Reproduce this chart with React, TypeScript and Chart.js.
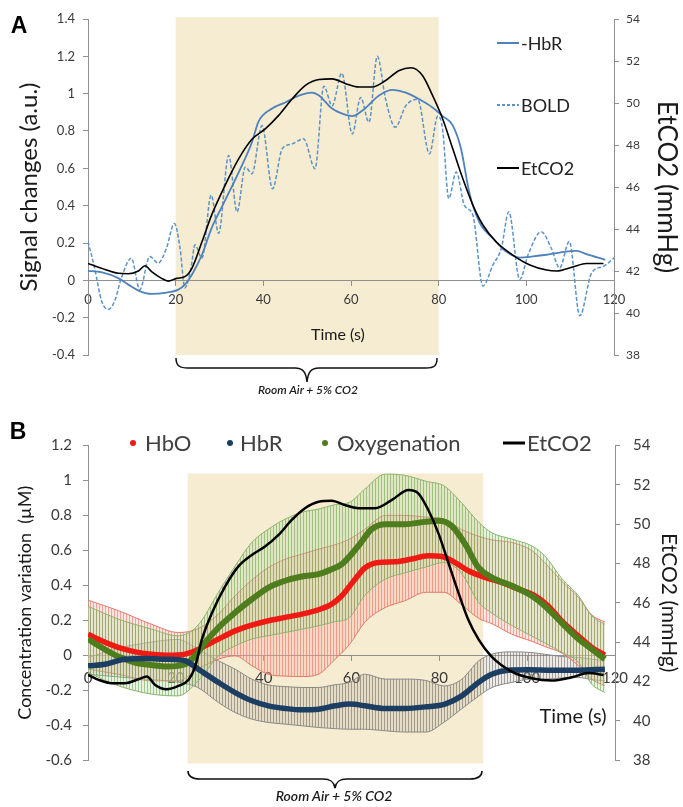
import React, { useEffect, useRef } from "react";
import { Chart, registerables } from "chart.js";

Chart.register(...registerables);

const FONT = "Lato, 'Open Sans', sans-serif";
const AXIS = "#8f8f8f";
const TICK = "#3a3a3a";

// ---------------- Panel A ----------------
const labelsA = ["-HbR", "BOLD", "EtCO2"];
const shadeTimeA = [20, 80];
const shadeValA = [-0.4, 1.41];

const timeHbRA = [0, 3, 6.9, 9.2, 11.5, 14.5, 17.6, 20.6, 22.1, 23.7, 26, 28.2, 31.3, 34.4, 37.4, 38.9, 42, 45, 48.1, 51.1, 52.7, 55.7, 58.8, 60.3, 63, 66.4, 69.5, 72.5, 75.6, 78.6, 80.9, 83.2, 85.1, 87, 89.3, 92.4, 95.4, 98.5, 101.5, 104.6, 107.6, 111.5, 113.7, 118];
const negHbRA = [0.051, 0.044, 0.012, -0.023, -0.055, -0.073, -0.067, -0.05, -0.023, 0.03, 0.137, 0.28, 0.43, 0.58, 0.74, 0.85, 0.92, 0.953, 0.99, 1.006, 0.99, 0.92, 0.886, 0.88, 0.917, 0.99, 1.02, 1.006, 0.97, 0.926, 0.88, 0.83, 0.705, 0.47, 0.31, 0.225, 0.154, 0.122, 0.128, 0.137, 0.149, 0.158, 0.14, 0.11];

const timeBoldA = [0, 1.5, 3.1, 4.6, 6.1, 7.6, 9.9, 11.8, 14.1, 16, 17.9, 19.7, 21, 22.1, 23.5, 24.4, 26, 28.1, 29.8, 32.1, 34, 35.9, 37.4, 39.7, 42.1, 44.3, 46.6, 49.2, 51.8, 53.8, 55.7, 57.9, 60.3, 62.2, 64.1, 66, 67.9, 70.1, 72.5, 75.2, 77.9, 79.8, 80.9, 82.3, 84, 85.9, 87.8, 90.1, 92.4, 94.3, 96, 98.5, 100.4, 103.4, 105.7, 107.6, 109.8, 112.2, 114.9, 117.6, 120];
const boldA = [0.208, 0.066, -0.11, -0.156, -0.11, 0.012, 0.119, -0.05, 0.128, 0.092, 0.172, 0.305, 0.172, -0.04, 0.066, 0.19, 0.119, 0.456, 0.252, 0.669, 0.367, 0.607, 0.571, 0.829, 0.49, 0.704, 0.731, 0.758, 0.598, 1.04, 0.935, 1.11, 0.784, 0.98, 0.847, 1.2, 0.97, 0.82, 0.935, 0.97, 0.678, 0.88, 0.81, 0.438, 0.58, 0.4, 0.35, -0.03, 0.083, 0.172, 0.367, 0.004, 0.137, 0.26, 0.172, 0.066, 0.208, -0.19, 0.04, 0.075, 0.12];

const timeEtA = [0, 3.05, 6.9, 9.2, 11.5, 13, 14.5, 16.8, 18.3, 20.2, 22.1, 23.7, 26, 28.2, 31.3, 34.4, 37.4, 40.5, 43.5, 46.6, 49.6, 52.7, 55.7, 58.8, 61.8, 64.9, 67.9, 71, 73.7, 76.3, 78.6, 80.9, 83.2, 85.5, 87.8, 90.1, 93.1, 96.9, 100.8, 104.6, 106.9, 110.7, 113.7, 117.6];
const etco2A = [42.36, 42.13, 41.89, 41.87, 42, 42.25, 41.97, 41.65, 41.52, 41.65, 41.73, 42.13, 43.39, 44.66, 46.09, 47.35, 48.27, 48.78, 49.41, 50.2, 50.84, 51.12, 51.15, 50.92, 50.76, 50.76, 51.07, 51.55, 51.68, 51.31, 50.36, 49.25, 47.83, 46.4, 45.14, 44.19, 43.39, 42.76, 42.29, 42.05, 42, 42.2, 42.36, 42.36];

// ---------------- Panel B ----------------
const labelsB = ["HbO", "HbR", "Oxygenation", "EtCO2"];
const shadeTimeB = [22.7, 90];
const shadeValB = [-0.62, 1.04];

const timeHbOB = [0, 3.1, 6.9, 10.7, 14.5, 18.3, 22.1, 24.4, 26.7, 29.7, 33.5, 37.3, 41.1, 44.9, 48.7, 52.5, 55.5, 57.8, 60.8, 63.1, 66.1, 69.9, 73.7, 77.5, 80.6, 83.6, 86.6, 90.4, 94.2, 98, 101.8, 104.8, 107.8, 111.6, 114.7, 117.7];
const hbOB = [0.12, 0.082, 0.044, 0.019, 0.006, 0, 0.006, 0.025, 0.053, 0.092, 0.139, 0.172, 0.197, 0.216, 0.235, 0.26, 0.292, 0.34, 0.435, 0.5, 0.53, 0.534, 0.55, 0.569, 0.565, 0.53, 0.483, 0.445, 0.416, 0.378, 0.34, 0.282, 0.197, 0.111, 0.044, 0];

const timeOxyB = [0, 3.1, 6.9, 10.7, 14.5, 18.3, 22.1, 24.4, 26.7, 29.7, 33.5, 37.3, 41.1, 44.9, 48.7, 52.5, 55.5, 57.8, 61.6, 64.6, 67.7, 72.2, 76.8, 79.8, 82.8, 85.9, 88.9, 91.9, 96.5, 101, 104, 107.8, 111.7, 114.7, 117.7];
const oxyB = [0.092, 0.044, -0.008, -0.042, -0.057, -0.065, -0.052, -0.004, 0.073, 0.158, 0.244, 0.32, 0.387, 0.426, 0.45, 0.464, 0.492, 0.521, 0.626, 0.721, 0.75, 0.75, 0.763, 0.769, 0.74, 0.635, 0.502, 0.445, 0.397, 0.34, 0.282, 0.187, 0.092, 0.034, -0.023];

const timeHbRB = [0, 3.9, 8.4, 13, 17.5, 22.1, 25.1, 29.7, 33.5, 37.3, 41.1, 44.9, 48.7, 52.5, 56.3, 59.7, 63.1, 67.7, 72.2, 76.8, 81.3, 85.1, 88.9, 91.9, 95.7, 100.3, 105.6, 111.7, 117.7];
const hbRB = [-0.061, -0.052, -0.023, -0.019, -0.023, -0.032, -0.08, -0.156, -0.214, -0.261, -0.29, -0.305, -0.313, -0.309, -0.29, -0.28, -0.29, -0.305, -0.305, -0.296, -0.28, -0.233, -0.156, -0.109, -0.086, -0.084, -0.086, -0.086, -0.08];

const timeEtB = [0, 2.4, 5.4, 8.4, 11.5, 13.4, 15.3, 17.9, 20.6, 22.9, 24.4, 25.9, 28.2, 31.2, 34.2, 37.3, 40.3, 43.4, 46.4, 49.4, 52.5, 55.5, 58.5, 61.6, 65.4, 69.2, 73, 75.2, 77.5, 79.8, 82.1, 84.4, 86.6, 89, 91.9, 96.5, 101, 105.6, 110.2, 114, 117.4];
const etco2B = [42.33, 42.08, 41.91, 41.91, 42.11, 42.25, 41.82, 41.6, 41.77, 42.08, 42.75, 44.11, 45.47, 46.82, 47.84, 48.43, 48.86, 49.45, 50.21, 50.81, 51.14, 51.19, 50.97, 50.81, 50.81, 51.23, 51.74, 51.57, 50.72, 49.53, 48.01, 46.48, 45.13, 44.11, 43.26, 42.5, 42.16, 42.04, 42.21, 42.42, 42.33];

// error bands (mean ± SD envelopes)
const bandTimeB = [0, 7, 14.5, 20.5, 25, 29.7, 33.5, 37.3, 41, 45, 49, 52.5, 56, 59.5, 63, 67.7, 72, 77, 81, 85, 89, 92, 96.5, 101, 104, 108, 111.7, 114.7, 117.7];
const hbOUpper = [0.315, 0.254, 0.177, 0.13, 0.15, 0.235, 0.34, 0.43, 0.5, 0.55, 0.58, 0.607, 0.63, 0.664, 0.72, 0.8, 0.8, 0.79, 0.78, 0.72, 0.68, 0.66, 0.645, 0.6, 0.53, 0.42, 0.33, 0.23, 0.19];
const hbOLower = [-0.08, -0.11, -0.147, -0.147, -0.08, -0.023, -0.004, -0.06, -0.109, -0.12, -0.122, -0.109, -0.03, 0.06, 0.187, 0.273, 0.31, 0.36, 0.36, 0.29, 0.21, 0.18, 0.12, 0.08, 0.05, 0.01, -0.061, -0.137, -0.176];
const oxyUpper = [0.28, 0.206, 0.149, 0.111, 0.17, 0.36, 0.51, 0.645, 0.72, 0.78, 0.82, 0.836, 0.86, 0.874, 0.95, 1.036, 1.03, 0.995, 0.97, 0.874, 0.76, 0.7, 0.664, 0.626, 0.569, 0.435, 0.34, 0.225, 0.177];
const oxyLower = [-0.1, -0.176, -0.223, -0.233, -0.15, -0.004, 0.053, 0.092, 0.111, 0.13, 0.15, 0.168, 0.19, 0.215, 0.34, 0.435, 0.47, 0.505, 0.53, 0.47, 0.3, 0.24, 0.17, 0.11, 0.07, 0.015, -0.042, -0.166, -0.214];
const hbRUpper = [-0.013, 0.04, 0.075, 0.09, 0.034, -0.032, -0.08, -0.137, -0.17, -0.18, -0.185, -0.185, -0.17, -0.156, -0.109, -0.137, -0.137, -0.145, -0.176, -0.14, -0.032, 0.006, 0.019, 0.015, 0.005, -0.008, -0.013, -0.023, -0.032];
const hbRLower = [-0.109, -0.125, -0.14, -0.155, -0.185, -0.271, -0.328, -0.366, -0.385, -0.395, -0.405, -0.414, -0.42, -0.424, -0.424, -0.433, -0.44, -0.44, -0.385, -0.309, -0.233, -0.185, -0.156, -0.137, -0.137, -0.13, -0.128, -0.14, -0.147];

// ---------------- helpers ----------------
function pts(t: number[], v: number[]) {
  return t.map((x, i) => ({ x, y: v[i] }));
}

function fmtDec(v: any) {
  const r = Math.round(Number(v) * 10) / 10;
  return String(r === 0 ? 0 : r);
}

function makeStripe(line: string, base: string): any {
  const c = document.createElement("canvas");
  c.width = 3;
  c.height = 2;
  const g = c.getContext("2d");
  if (!g) return base;
  g.fillStyle = base;
  g.fillRect(0, 0, 3, 2);
  g.fillStyle = line;
  g.fillRect(0, 0, 1, 2);
  return g.createPattern(c, "repeat") || base;
}

const shadePlugin = {
  id: "shade",
  beforeDraw(chart: any, _args: any, opts: any) {
    const { ctx, scales } = chart;
    const x = scales.x;
    const y = scales.y;
    if (!x || !y) return;
    const px0 = x.getPixelForValue(opts.t[0]);
    const px1 = x.getPixelForValue(opts.t[1]);
    const py0 = y.getPixelForValue(opts.v[1]);
    const py1 = y.getPixelForValue(opts.v[0]);
    ctx.save();
    ctx.fillStyle = opts.color;
    ctx.fillRect(px0, py0, px1 - px0, py1 - py0);
    ctx.restore();
  },
};

function lineDs(label: string, t: number[], v: number[], color: string, width: number, extra: any = {}) {
  return {
    label,
    data: pts(t, v),
    borderColor: color,
    backgroundColor: color,
    borderWidth: width,
    pointRadius: 0,
    fill: false,
    cubicInterpolationMode: "monotone",
    yAxisID: "y",
    ...extra,
  };
}

function scalesFor(p: {
  yMin: number; yMax: number; leftW: number; rightW: number; tickSize: number;
  leftTitle: string; leftTitleSize: number; leftTitlePad: number;
  rightTitleSize: number; rightTitlePad: number; xPad: number; leftPad: number; rightPad: number; rightTickSize: number;
}) {
  const gridOpts = { display: true, drawOnChartArea: false, drawTicks: true, tickLength: 5, color: AXIS };
  return {
    x: {
      type: "linear",
      min: 0,
      max: 120,
      position: { y: 0 },
      ticks: { stepSize: 20, color: TICK, font: { family: FONT, size: p.tickSize }, padding: p.xPad, maxRotation: 0, autoSkip: false },
      grid: gridOpts,
      border: { display: true, color: AXIS, width: 1 },
    },
    y: {
      type: "linear",
      position: "left",
      min: p.yMin,
      max: p.yMax,
      afterFit: (s: any) => { s.width = p.leftW; },
      ticks: { stepSize: 0.2, callback: fmtDec, color: TICK, font: { family: FONT, size: p.tickSize }, padding: p.leftPad },
      grid: gridOpts,
      border: { display: true, color: AXIS, width: 1 },
      title: {
        display: true,
        text: p.leftTitle,
        color: "#1a1a1a",
        font: { family: FONT, size: p.leftTitleSize },
        padding: { top: p.leftTitlePad, bottom: 0 },
      },
    },
    y2: {
      type: "linear",
      position: "right",
      min: 38,
      max: 54,
      afterFit: (s: any) => { s.width = p.rightW; },
      ticks: { stepSize: 2, callback: (v: any) => String(Math.round(Number(v))), color: TICK, font: { family: FONT, size: p.rightTickSize }, padding: p.rightPad },
      grid: gridOpts,
      border: { display: true, color: AXIS, width: 1 },
      title: {
        display: true,
        text: "EtCO2 (mmHg)",
        color: "#1a1a1a",
        font: { family: FONT, size: p.rightTitleSize },
        padding: { top: p.rightTitlePad, bottom: 0 },
      },
    },
  };
}

const BLUE = "#4F81BD";
const BOLD_BLUE = "#5B93C7";
const RED = "#F01A14";
const GREEN = "#4E7D1E";
const NAVY = "#1C3E63";

function configA(): any {
  return {
    type: "line",
    data: {
      // first dataset is drawn on top
      datasets: [
        lineDs(labelsA[2], timeEtA, etco2A, "#000000", 1.6, { yAxisID: "y2" }),
        lineDs(labelsA[0], timeHbRA, negHbRA, BLUE, 1.8),
        lineDs(labelsA[1], timeBoldA, boldA, BOLD_BLUE, 1.5, { borderDash: [4, 2] }),
      ],
    },
    options: {
      animation: false,
      responsive: false,
      layout: { padding: { top: 19, bottom: 45, left: 0, right: 0 } },
      plugins: {
        legend: { display: false },
        tooltip: { enabled: false },
        shade: { t: shadeTimeA, v: shadeValA, color: "#F6ECD1" },
      },
      scales: scalesFor({
        yMin: -0.4, yMax: 1.4, leftW: 88, rightW: 69, tickSize: 13, rightTickSize: 12,
        leftTitle: "Signal changes (a.u.)", leftTitleSize: 24, leftTitlePad: 15,
        rightTitleSize: 26, rightTitlePad: 1, xPad: 7, leftPad: 8, rightPad: 7,
      }),
    },
    plugins: [shadePlugin],
  };
}

function configB(): any {
  const grayFill = makeStripe("rgba(105,100,90,0.55)", "rgba(185,180,170,0.28)");
  const greenFill = makeStripe("rgba(105,160,75,0.55)", "rgba(185,220,165,0.32)");
  const redFill = makeStripe("rgba(240,110,100,0.6)", "rgba(250,185,175,0.35)");
  const band = (label: string, v: number[], color: string, fill: any, bg: any) =>
    lineDs(label, bandTimeB, v, color, 1, { fill, backgroundColor: bg });
  return {
    type: "line",
    data: {
      // first dataset is drawn on top; bands (drawn first) come last
      datasets: [
        lineDs(labelsB[3], timeEtB, etco2B, "#000000", 2.5, { yAxisID: "y2" }),
        lineDs(labelsB[1], timeHbRB, hbRB, NAVY, 5.5),
        lineDs(labelsB[2], timeOxyB, oxyB, GREEN, 6),
        lineDs(labelsB[0], timeHbOB, hbOB, RED, 5.5),
        band("Oxygenation +SD", oxyUpper, "#8DB36F", false, "transparent"),
        band("Oxygenation -SD", oxyLower, "#8DB36F", "-1", greenFill),
        band("HbO +SD", hbOUpper, "#E07A6A", false, "transparent"),
        band("HbO -SD", hbOLower, "#E07A6A", "-1", redFill),
        band("HbR +SD", hbRUpper, "#8a8a8a", false, "transparent"),
        band("HbR -SD", hbRLower, "#8a8a8a", "-1", grayFill),
      ],
    },
    options: {
      animation: false,
      responsive: false,
      layout: { padding: { top: 45.5, bottom: 47, left: 0, right: 0 } },
      plugins: {
        legend: { display: false },
        tooltip: { enabled: false },
        shade: { t: shadeTimeB, v: shadeValB, color: "#F6ECD1" },
      },
      scales: scalesFor({
        yMin: -0.6, yMax: 1.2, leftW: 88, rightW: 68, tickSize: 15, rightTickSize: 15,
        leftTitle: "Concentration variation  (\u00b5M)", leftTitleSize: 18, leftTitlePad: 14,
        rightTitleSize: 21, rightTitlePad: 2, xPad: 9, leftPad: 11, rightPad: 13,
      }),
    },
    plugins: [shadePlugin],
  };
}

function Txt(props: { x: number; y: number; text: string; size: number; anchor?: "c" | "l"; style?: any }) {
  const { x, y, text, size, anchor = "c", style = {} } = props;
  return (
    <div
      style={{
        position: "absolute",
        left: x,
        top: y,
        transform: anchor === "c" ? "translate(-50%,-50%)" : "translate(0,-50%)",
        fontSize: size,
        lineHeight: 1,
        whiteSpace: "pre",
        fontFamily: FONT,
        color: "#1a1a1a",
        ...style,
      }}
    >
      {text}
    </div>
  );
}

export default function App() {
  const refA = useRef<HTMLCanvasElement>(null);
  const refB = useRef<HTMLCanvasElement>(null);

  useEffect(() => {
    const a = new Chart(refA.current as HTMLCanvasElement, configA());
    const b = new Chart(refB.current as HTMLCanvasElement, configB());
    return () => {
      a.destroy();
      b.destroy();
    };
  }, []);

  const legendAY = [43, 105, 168];
  const legendAColors = [BLUE, BOLD_BLUE, "#000000"];
  const legendBX = [133, 230, 325];
  const legendBColors = [RED, NAVY, GREEN];
  const legendBTextX = [145, 240, 337, 527];

  return (
    <div style={{ position: "absolute", left: 0, top: 0, width: 683, height: 807, background: "#fff", overflow: "hidden" }}>
      <canvas ref={refA} width={683} height={400} style={{ position: "absolute", left: 0, top: 0 }} />
      <canvas ref={refB} width={683} height={407} style={{ position: "absolute", left: 0, top: 400 }} />
      <svg width={683} height={807} style={{ position: "absolute", left: 0, top: 0, pointerEvents: "none" }}>
        {/* braces */}
        <path d="M176,358 C176,366 180,368 188,368 L295,368 C303,368 306,372 307,382 C308,372 311,368 319,368 L426,368 C434,368 437,366 437,358" fill="none" stroke="#111" strokeWidth={1.5} />
        <path d="M188,771 C188,777 192,779 200,779 L323,779 C331,779 334,782 335,788 C336,782 339,779 347,779 L470,779 C478,779 482,777 482,771" fill="none" stroke="#111" strokeWidth={1.6} />
        {/* legend A swatches */}
        {legendAY.map((y, i) => (
          <line key={i} x1={497} x2={519} y1={y} y2={y} stroke={legendAColors[i]} strokeWidth={2} strokeDasharray={i === 1 ? "3 2" : undefined} />
        ))}
        {/* legend B markers */}
        {legendBX.map((x, i) => (
          <circle key={i} cx={x} cy={443} r={3} fill={legendBColors[i]} />
        ))}
        <line x1={503} x2={525} y1={443} y2={443} stroke="#000" strokeWidth={3} />
      </svg>

      <Txt x={19} y={25} text="A" size={23} style={{ fontFamily: "'Liberation Sans', Arial, sans-serif", fontWeight: 700, color: "#000" }} />
      <Txt x={18} y={431} text="B" size={23} style={{ fontFamily: "'Liberation Sans', Arial, sans-serif", fontWeight: 700, color: "#000" }} />

      {labelsA.map((l, i) => (
        <Txt key={l} x={521} y={legendAY[i]} text={l} size={18} anchor="l" style={{ color: "#222" }} />
      ))}
      {labelsB.map((l, i) => (
        <Txt key={l} x={legendBTextX[i]} y={443} text={l} size={22} anchor="l" style={{ color: "#404040" }} />
      ))}

      <Txt x={338} y={334} text="Time (s)" size={16} />
      <Txt x={573} y={715} text="Time (s)" size={20} />
      <Txt x={308} y={390} text="Room Air + 5% CO2" size={12} style={{ fontStyle: "italic", fontWeight: 600 }} />
      <Txt x={334} y={796} text="Room Air + 5% CO2" size={14} style={{ fontStyle: "italic", fontWeight: 600 }} />
    </div>
  );
}
